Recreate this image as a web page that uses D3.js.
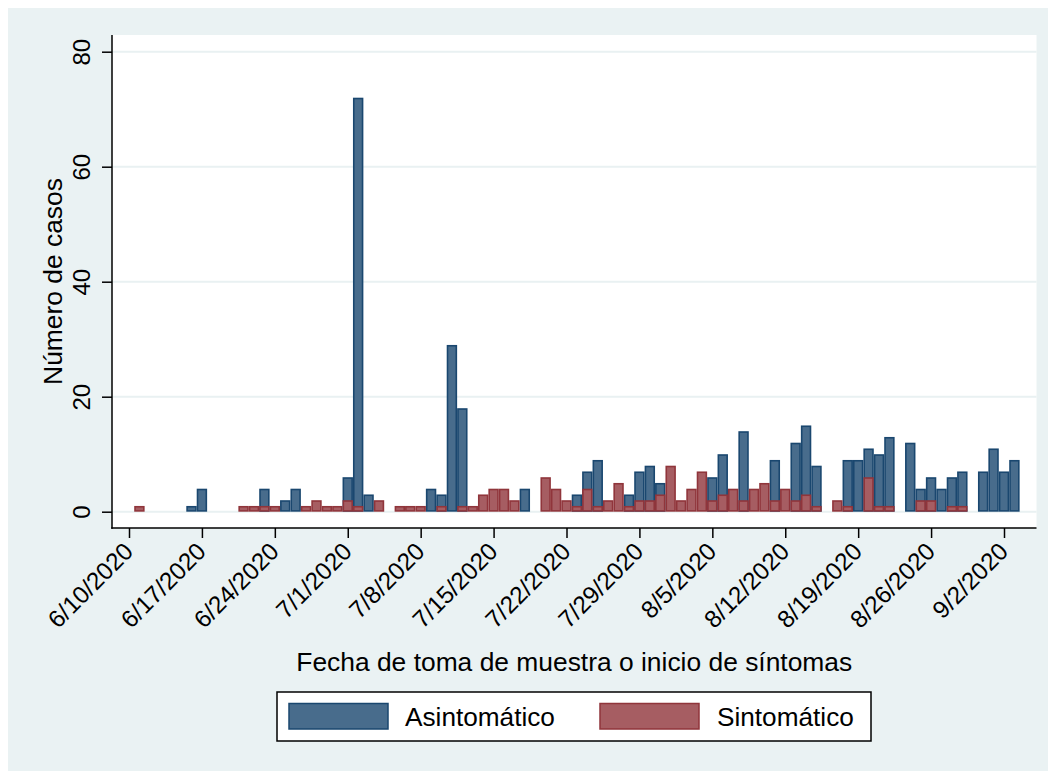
<!DOCTYPE html>
<html>
<head>
<meta charset="utf-8">
<script src="https://cdn.jsdelivr.net/npm/d3@7"></script>
<style>
  html, body { margin: 0; padding: 0; background: #ffffff; }
  svg { display: block; }
  text { font-family: "Liberation Sans", Arial, Helvetica, sans-serif; fill: #000; }
</style>
</head>
<body>
<script>
// ---- Data ----
const asintDates = ["6/16/2020","6/17/2020","6/23/2020","6/25/2020","6/26/2020","7/1/2020","7/2/2020","7/3/2020",
  "7/9/2020","7/10/2020","7/11/2020","7/12/2020","7/18/2020","7/23/2020","7/24/2020","7/25/2020","7/28/2020",
  "7/29/2020","7/30/2020","7/31/2020","8/5/2020","8/6/2020","8/8/2020","8/11/2020","8/13/2020","8/14/2020",
  "8/15/2020","8/18/2020","8/19/2020","8/20/2020","8/21/2020","8/22/2020","8/24/2020","8/25/2020","8/26/2020",
  "8/27/2020","8/28/2020","8/29/2020","8/31/2020","9/1/2020","9/2/2020","9/3/2020"];
const asintValues = [1,4,4,2,4,6,72,3,
  4,3,29,18,4,3,7,9,3,
  7,8,5,6,10,14,9,12,15,
  8,9,9,11,10,13,12,4,6,
  4,6,7,7,11,7,9];

const sintDates = ["6/11/2020","6/21/2020","6/22/2020","6/23/2020","6/24/2020","6/27/2020","6/28/2020","6/29/2020",
  "6/30/2020","7/1/2020","7/2/2020","7/4/2020","7/6/2020","7/7/2020","7/8/2020","7/10/2020","7/12/2020",
  "7/13/2020","7/14/2020","7/15/2020","7/16/2020","7/17/2020","7/20/2020","7/21/2020","7/22/2020","7/23/2020",
  "7/24/2020","7/25/2020","7/26/2020","7/27/2020","7/28/2020","7/29/2020","7/30/2020","7/31/2020","8/1/2020",
  "8/2/2020","8/3/2020","8/4/2020","8/5/2020","8/6/2020","8/7/2020","8/8/2020","8/9/2020","8/10/2020",
  "8/11/2020","8/12/2020","8/13/2020","8/14/2020","8/15/2020","8/17/2020","8/18/2020","8/20/2020","8/21/2020",
  "8/22/2020","8/25/2020","8/26/2020","8/28/2020","8/29/2020"];
const sintValues = [1,1,1,1,1,1,2,1,
  1,2,1,2,1,1,1,1,1,
  1,3,4,4,2,6,4,2,1,
  4,1,2,5,1,2,2,3,8,
  2,4,7,2,3,4,2,4,5,
  2,4,2,3,1,2,1,6,1,
  1,2,2,1,1];

const xTickLabels = ["6/10/2020","6/17/2020","6/24/2020","7/1/2020","7/8/2020","7/15/2020","7/22/2020",
  "7/29/2020","8/5/2020","8/12/2020","8/19/2020","8/26/2020","9/2/2020"];
const yTickValues = [0, 20, 40, 60, 80];
const seriesNames = ["Asintomático", "Sintomático"];
const xTitle = "Fecha de toma de muestra o inicio de síntomas";
const yTitle = "Número de casos";

// ---- Setup ----
const W = 1048, H = 771;
const parse = d3.utcParse("%m/%d/%Y");
const fmt = d => `${d.getUTCMonth() + 1}/${d.getUTCDate()}/${d.getUTCFullYear()}`;
const DAY = 864e5;

const plot = { left: 112, right: 1036.5, top: 35, bottom: 528 };
const col = {
  bg: "#eaf2f3",
  blueFill: "#486c8c", blueLine: "#1a476f",
  redFill: "#a65d62", redLine: "#90353b",
  grid: "#e9f1f2"
};

const svg = d3.select("body").append("svg").attr("width", W).attr("height", H);

// graph region background
svg.append("rect").attr("x", 8).attr("y", 8).attr("width", W - 8).attr("height", H - 8).attr("fill", col.bg);
// plot region
svg.append("rect").attr("x", plot.left).attr("y", plot.top)
  .attr("width", plot.right - plot.left).attr("height", plot.bottom - plot.top).attr("fill", "#ffffff");

const t0 = parse("6/10/2020").getTime();
// x: 6/10 at 129px, 10.417 px per day
const pxPerDay = (1004 - 129) / 84;
const x = d3.scaleUtc()
  .domain([new Date(t0 + (plot.left - 129) / pxPerDay * DAY), new Date(t0 + (plot.right - 129) / pxPerDay * DAY)])
  .range([plot.left, plot.right]);
const y = d3.scaleLinear().domain([0, 80]).range([511.7, 51.7]);

const barW = x(new Date(t0 + DAY)) - x(new Date(t0));

// grid
svg.append("g").selectAll("line").data(yTickValues).join("line")
  .attr("x1", plot.left).attr("x2", plot.right)
  .attr("y1", d => y(d)).attr("y2", d => y(d))
  .attr("stroke", col.grid).attr("stroke-width", 2);

// bars
function drawBars(dates, values, fill, line) {
  const data = dates.map((d, i) => ({ date: parse(d), v: values[i] }));
  svg.append("g").selectAll("rect").data(data).join("rect")
    .attr("x", d => x(d.date) - barW / 2 + 0.8)
    .attr("width", barW - 1.6)
    .attr("y", d => y(d.v) + 0.8)
    .attr("height", d => y(0) - y(d.v) - 1.6)
    .attr("fill", fill).attr("stroke", line).attr("stroke-width", 1.6);
}
drawBars(asintDates, asintValues, col.blueFill, col.blueLine);
drawBars(sintDates, sintValues, col.redFill, col.redLine);

// y axis
const yAxis = svg.append("g").attr("transform", `translate(${plot.left},0)`)
  .call(d3.axisLeft(y).tickValues(yTickValues).tickSize(10).tickSizeOuter(0));
yAxis.select(".domain").remove();
yAxis.selectAll(".tick line").attr("stroke", "#000").attr("stroke-width", 1.5);
yAxis.selectAll(".tick text")
  .attr("x", null).attr("dy", null)
  .attr("transform", "translate(-22,0) rotate(-90)")
  .attr("text-anchor", "middle")
  .style("font-size", "24px").style("font-family", "'Liberation Sans', Arial, sans-serif").attr("fill", "#000");
svg.append("line").attr("x1", plot.left).attr("x2", plot.left).attr("y1", plot.top).attr("y2", plot.bottom + 0.75)
  .attr("stroke", "#000").attr("stroke-width", 1.5);

// x axis
const xAxis = svg.append("g").attr("transform", `translate(0,${plot.bottom})`)
  .call(d3.axisBottom(x).tickValues(xTickLabels.map(parse)).tickFormat(fmt).tickSize(10).tickSizeOuter(0));
xAxis.select(".domain").remove();
xAxis.selectAll(".tick line").attr("stroke", "#000").attr("stroke-width", 1.5);
xAxis.selectAll(".tick text")
  .attr("y", null).attr("dy", null)
  .attr("transform", "translate(5,25) rotate(-45)")
  .attr("text-anchor", "end")
  .style("font-size", "24.3px").style("font-family", "'Liberation Sans', Arial, sans-serif").attr("fill", "#000");
svg.append("line").attr("x1", plot.left - 0.75).attr("x2", plot.right).attr("y1", plot.bottom).attr("y2", plot.bottom)
  .attr("stroke", "#000").attr("stroke-width", 1.5);

// axis titles
svg.append("text").attr("transform", `translate(62,${(plot.top + plot.bottom) / 2}) rotate(-90)`)
  .attr("text-anchor", "middle").style("font-size", "26.4px").text(yTitle);
svg.append("text").attr("x", (plot.left + plot.right) / 2).attr("y", 671)
  .attr("text-anchor", "middle").style("font-size", "26.4px").text(xTitle);

// legend
const lg = svg.append("g");
lg.append("rect").attr("x", 277).attr("y", 692).attr("width", 594).attr("height", 49)
  .attr("fill", "#fff").attr("stroke", "#000").attr("stroke-width", 1.5);
const legItems = [
  { name: seriesNames[0], fill: col.blueFill, line: col.blueLine, sx: 289, tx: 405 },
  { name: seriesNames[1], fill: col.redFill, line: col.redLine, sx: 600, tx: 717 }
];
legItems.forEach(it => {
  lg.append("rect").attr("x", it.sx).attr("y", 703.5).attr("width", 99).attr("height", 25.5)
    .attr("fill", it.fill).attr("stroke", it.line).attr("stroke-width", 1.5);
  lg.append("text").attr("x", it.tx).attr("y", 726).style("font-size", "26.2px").text(it.name);
});
</script>
</body>
</html>
